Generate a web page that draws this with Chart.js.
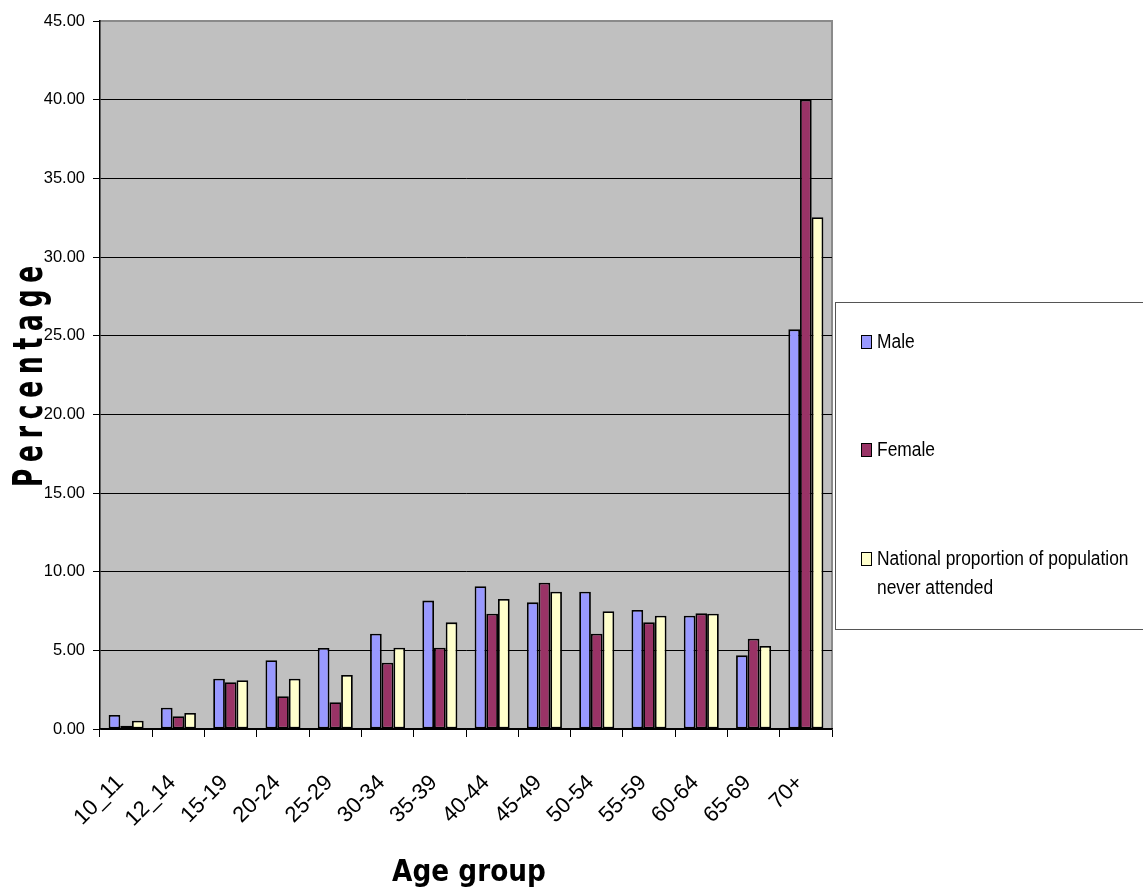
<!DOCTYPE html>
<html>
<head>
<meta charset="utf-8">
<script src="https://cdn.jsdelivr.net/npm/chart.js@4/dist/chart.umd.min.js"></script>
<style>
  html, body { margin: 0; padding: 0; background: #fff; }
  #wrap { width: 1143px; height: 891px; }
</style>
</head>
<body>
<div id="wrap"><canvas id="c" width="1143" height="891"></canvas></div>
<script>
// Age groups on the x axis
const categories = ['10_11', '12_14', '15-19', '20-24', '25-29', '30-34', '35-39',
  '40-44', '45-49', '50-54', '55-59', '60-64', '65-69', '70+'];

// Percentage never attended school, by sex and nationally
const male     = [0.89, 1.35, 3.20, 4.37, 5.15, 6.06, 8.16, 9.07, 8.05, 8.73, 7.56, 7.20, 4.68, 25.40];
const female   = [0.21, 0.81, 2.97, 2.08, 1.70, 4.21, 5.17, 7.33, 9.30, 6.06, 6.78, 7.35, 5.74, 40.00];
const national = [0.53, 1.02, 3.10, 3.20, 3.43, 5.17, 6.78, 8.26, 8.73, 7.48, 7.20, 7.33, 5.28, 32.53];

const seriesNames = ['Male', 'Female', 'National proportion of population never attended'];

// Y axis range and tick spacing
const yMin = 0, yMax = 45, yStep = 5;

const axisTitles = { x: 'Age group', y: 'Percentage' };

// Grey plot area with a thin border on the top and right
const plotBackground = {
  id: 'plotBackground',
  beforeDraw(chart) {
    const { ctx, chartArea: a } = chart;
    ctx.save();
    ctx.fillStyle = '#c0c0c0';
    ctx.fillRect(a.left, a.top, a.right - a.left, a.bottom - a.top);
    ctx.strokeStyle = '#8a8a8a';
    ctx.lineWidth = 2;
    ctx.beginPath();
    ctx.moveTo(a.left, a.top);
    ctx.lineTo(a.right, a.top);
    ctx.lineTo(a.right, a.bottom);
    ctx.stroke();
    ctx.restore();
  }
};

// Axis titles: stretched bold lettering
const axisTitlePlugin = {
  id: 'axisTitlePlugin',
  afterDraw(chart) {
    const ctx = chart.ctx;
    ctx.save();
    ctx.fillStyle = '#000';
    ctx.font = 'bold 40px "DejaVu Sans"';
    ctx.textAlign = 'center';
    ctx.textBaseline = 'alphabetic';
    ctx.translate(42, 373);
    ctx.rotate(-Math.PI / 2);
    ctx.scale(0.62, 1);
    ctx.letterSpacing = '11px';
    ctx.fillText(axisTitles.y, 0, 0);
    ctx.restore();

    ctx.save();
    ctx.fillStyle = '#000';
    ctx.font = 'bold 31px "DejaVu Sans"';
    ctx.textAlign = 'center';
    ctx.textBaseline = 'alphabetic';
    ctx.translate(469, 881);
    ctx.scale(0.85, 1);
    ctx.fillText(axisTitles.x, 0, 0);
    ctx.restore();
  }
};

// Boxed legend to the right of the plot
const boxLegend = {
  id: 'boxLegend',
  afterDraw(chart) {
    const ctx = chart.ctx;
    const rows = [342, 450, 559];
    const lineH = 29;
    const maxW = 300;
    const squeeze = 0.87;
    ctx.save();
    ctx.strokeStyle = '#555';
    ctx.lineWidth = 1;
    ctx.strokeRect(835.5, 302.5, 330, 327);
    ctx.font = '20px "Liberation Sans"';
    ctx.textBaseline = 'middle';
    ctx.textAlign = 'left';
    chart.data.datasets.forEach((ds, i) => {
      const y = rows[i];
      ctx.fillStyle = ds.backgroundColor;
      ctx.fillRect(861.5, y - 6.5, 10, 13);
      ctx.strokeStyle = '#000';
      ctx.lineWidth = 1;
      ctx.strokeRect(861.5, y - 6.5, 10, 13);
      // wrap the label to the legend width
      const words = ds.label.split(' ');
      const lines = [];
      let cur = '';
      words.forEach(w => {
        const t = cur ? cur + ' ' + w : w;
        if (ctx.measureText(t).width > maxW && cur) { lines.push(cur); cur = w; }
        else cur = t;
      });
      lines.push(cur);
      ctx.fillStyle = '#000';
      lines.forEach((ln, k) => {
        ctx.save();
        ctx.translate(877, y + k * lineH);
        ctx.scale(squeeze, 1);
        ctx.fillText(ln, 0, 0);
        ctx.restore();
      });
    });
    ctx.restore();
  }
};

const colors = ['#9999ff', '#993366', '#ffffcc'];
const seriesValues = [male, female, national];

new Chart(document.getElementById('c'), {
  type: 'bar',
  data: {
    labels: categories,
    datasets: seriesValues.map((vals, i) => ({
      label: seriesNames[i],
      data: vals,
      backgroundColor: colors[i],
      borderColor: '#000',
      borderWidth: 1.8,
      borderSkipped: false,
      categoryPercentage: 0.67,
      barPercentage: 1.0
    }))
  },
  options: {
    responsive: false,
    animation: false,
    devicePixelRatio: 1,
    layout: { padding: { top: 21, right: 311, bottom: 0, left: 0 } },
    plugins: {
      legend: { display: false },
      tooltip: { enabled: false },
      title: { display: false }
    },
    scales: {
      x: {
        afterFit(scale) { scale.height = 162; },
        grid: {
          offset: true,
          drawOnChartArea: false,
          drawTicks: true,
          tickLength: 8,
          color: '#000',
          lineWidth: 1
        },
        border: { color: '#000', width: 1.5 },
        ticks: {
          color: '#000',
          font: { family: '"Liberation Sans"', size: 22 },
          minRotation: 45,
          maxRotation: 45,
          autoSkip: false,
          padding: 33,
          labelOffset: -6
        }
      },
      y: {
        min: yMin,
        max: yMax,
        afterFit(scale) { scale.width = 100; },
        grid: {
          color: ctx => (ctx.tick && ctx.tick.value === yMax ? 'rgba(0,0,0,0)' : '#000'),
          tickColor: '#000',
          lineWidth: 1,
          tickLength: 7,
          drawTicks: true
        },
        border: { color: '#000', width: 1.5 },
        ticks: {
          stepSize: yStep,
          color: '#000',
          padding: 8,
          font: { family: '"Liberation Sans"', size: 16.5 },
          callback: v => Number(v).toFixed(2)
        }
      }
    }
  },
  plugins: [plotBackground, axisTitlePlugin, boxLegend]
});
</script>
</body>
</html>
